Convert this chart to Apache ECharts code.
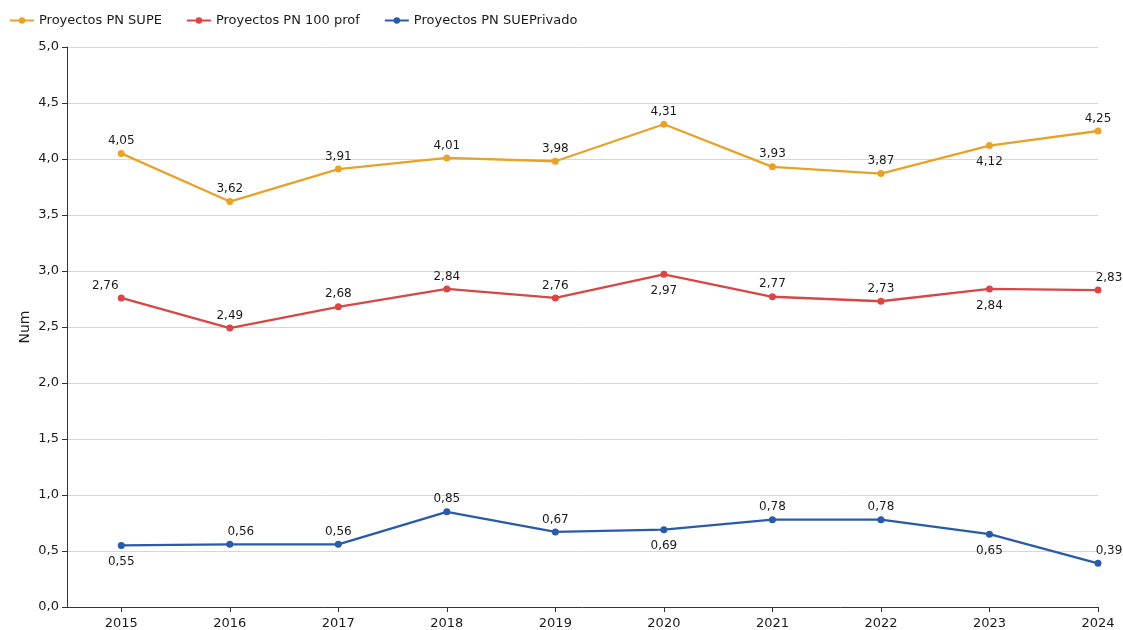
<!DOCTYPE html>
<html><head><meta charset="utf-8">
<script src="https://cdn.jsdelivr.net/npm/echarts@6/dist/echarts.min.js"></script>
<style>html,body{margin:0;padding:0;background:#fff}#c{width:1123px;height:630px}</style>
</head><body><div id="c"></div>
<script>
var years = [2015, 2016, 2017, 2018, 2019, 2020, 2021, 2022, 2023, 2024];
var supe = [4.05, 3.62, 3.91, 4.01, 3.98, 4.31, 3.93, 3.87, 4.12, 4.25];
var prof100 = [2.76, 2.49, 2.68, 2.84, 2.76, 2.97, 2.77, 2.73, 2.84, 2.83];
var suePrivado = [0.55, 0.56, 0.56, 0.85, 0.67, 0.69, 0.78, 0.78, 0.65, 0.39];
var seriesNames = ['Proyectos PN SUPE', 'Proyectos PN 100 prof', 'Proyectos PN SUEPrivado'];
var yTicks = [0, 0.5, 1, 1.5, 2, 2.5, 3, 3.5, 4, 4.5, 5];

// label placement per point: 't' top, 'b' bottom, 'tl' top-left, 'tr' top-right
var posSupe = ['t','t','t','t','t','t','t','t','b','t'];
var posProf = ['tl','t','t','t','t','b','t','t','b','tr'];
var posPriv = ['b','tr','t','t','t','b','t','t','b','tr'];

var colors = ['#E8A229', '#D94646', '#2A5BA8'];
var font = 'DejaVu Sans';

function fmt(v){ return v.toFixed(2).replace('.', ','); }
function build(vals, pos){
  return vals.map(function(v, i){
    var p = pos[i], lab = {};
    if (p === 'b') { lab.position = 'bottom'; lab.distance = 7; }
    else { lab.position = 'top'; lab.distance = 3; }
    if (p === 'tl') lab.offset = [-16, 0];
    if (p === 'tr') lab.offset = [11, 0];
    return { value: [years[i], v], label: lab };
  });
}
function mk(name, vals, pos, color){
  return {
    name: name, type: 'line', data: build(vals, pos),
    symbol: 'circle', symbolSize: 7,
    lineStyle: { width: 2.3, color: color },
    itemStyle: { color: color },
    label: { show: true, fontFamily: font, fontSize: 12, color: '#1a1a1a',
      formatter: function(p){ return fmt(p.value[1]); } },
    clip: false
  };
}

var chart = echarts.init(document.getElementById('c'));
chart.setOption({
  animation: false,
  color: colors,
  legend: {
    left: 4, top: 9, itemWidth: 24, itemHeight: 8, itemGap: 24,
    textStyle: { fontFamily: font, fontSize: 13, color: '#1a1a1a' },
    data: seriesNames
  },
  grid: { left: 67, right: 25, top: 47, bottom: 21, containLabel: false },
  xAxis: {
    type: 'value', min: 2014.5, max: 2024,
    axisLine: { show: true, lineStyle: { color: '#333' } },
    axisTick: { show: true, customValues: years, length: 5, lineStyle: { color: '#333' } },
    axisLabel: { customValues: years, fontFamily: font, fontSize: 13, color: '#1a1a1a', margin: 10,
      formatter: function(v){ return String(v); } },
    splitLine: { show: false }
  },
  yAxis: {
    type: 'value', min: 0, max: 5, interval: 0.5,
    name: 'Num', nameLocation: 'middle', nameGap: 35, nameRotate: 90, nameMoveOverlap: false,
    nameTextStyle: { fontFamily: font, fontSize: 14, color: '#1a1a1a' },
    axisLine: { show: true, lineStyle: { color: '#333' } },
    axisTick: { show: true, length: 5, lineStyle: { color: '#333' } },
    axisLabel: { fontFamily: font, fontSize: 13, color: '#1a1a1a', margin: 8,
      formatter: function(v){ return v.toFixed(1).replace('.', ','); } },
    splitLine: { show: true, lineStyle: { color: '#d6d6d6', width: 1 } }
  },
  series: [
    mk(seriesNames[0], supe, posSupe, colors[0]),
    mk(seriesNames[1], prof100, posProf, colors[1]),
    mk(seriesNames[2], suePrivado, posPriv, colors[2])
  ]
});
</script>
</body></html>
